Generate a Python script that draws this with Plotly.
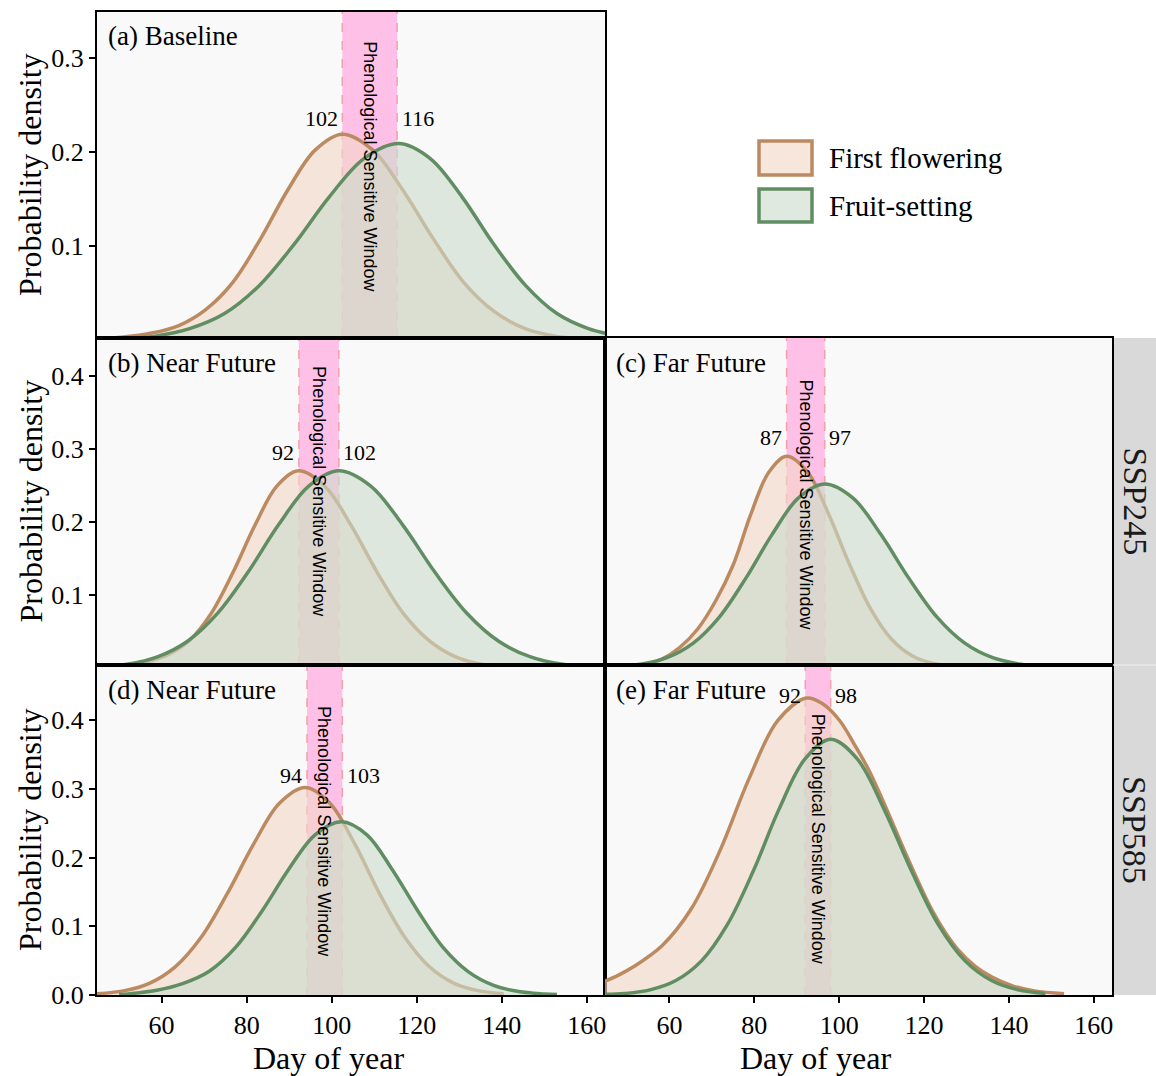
import plotly.graph_objects as go

# ---------------- data ----------------
panels = ["a", "b", "c", "d", "e"]
panel_titles = ["(a) Baseline", "(b) Near Future", "(c) Far Future", "(d) Near Future", "(e) Far Future"]

# First flowering density curves (day of year, density)
ff_a_x = [44.5, 51.0, 57.4, 63.9, 70.3, 76.7, 83.2, 89.6, 96.1, 102.5, 109.7, 116.8, 124.0, 131.1, 138.3, 145.5, 152.6, 159.8, 164.5]
ff_a_y = [0.001, 0.003, 0.007, 0.015, 0.032, 0.061, 0.107, 0.159, 0.202, 0.219, 0.202, 0.159, 0.107, 0.061, 0.030, 0.012, 0.004, 0.0013, 0.0005]
ff_b_x = [46.1, 51.2, 56.4, 61.5, 66.6, 71.7, 76.8, 82.0, 87.1, 92.2, 98.4, 104.5, 110.7, 116.8, 123.0, 129.2, 135.3, 141.5, 147.6]
ff_b_y = [0.001, 0.003, 0.008, 0.018, 0.038, 0.075, 0.131, 0.196, 0.249, 0.270, 0.249, 0.196, 0.131, 0.075, 0.037, 0.015, 0.005, 0.0016, 0.0004]
ff_c_x = [54.0, 58.2, 62.4, 66.6, 70.8, 75.0, 79.2, 83.4, 87.6, 92.6, 97.5, 102.5, 107.4, 112.4, 117.4, 122.3, 127.3]
ff_c_y = [0.004, 0.012, 0.028, 0.053, 0.091, 0.141, 0.211, 0.268, 0.290, 0.268, 0.211, 0.141, 0.081, 0.039, 0.016, 0.006, 0.0017]
ff_d_x = [44.8, 51.0, 57.1, 63.2, 69.3, 75.4, 81.6, 87.7, 93.8, 99.6, 105.5, 111.3, 117.2, 123.0, 128.8, 134.7, 140.5]
ff_d_y = [0.002, 0.006, 0.017, 0.041, 0.084, 0.147, 0.219, 0.279, 0.302, 0.279, 0.219, 0.147, 0.084, 0.041, 0.017, 0.006, 0.002]
ff_e_x = [44.7, 48.0, 51.5, 58.3, 65.1, 71.9, 78.7, 85.5, 92.3, 96, 100, 104, 107, 110, 113, 116, 119, 122, 125, 128, 132, 136, 141, 146, 153]
ff_e_y = [0.020, 0.029, 0.041, 0.072, 0.125, 0.210, 0.314, 0.399, 0.432, 0.424, 0.400, 0.360, 0.327, 0.287, 0.244, 0.201, 0.160, 0.122, 0.091, 0.066, 0.042, 0.026, 0.013, 0.006, 0.002]

# Fruit-setting density curves (day of year, density)
fs_a_x = [45.0, 50.2, 58.4, 66.6, 74.8, 83.0, 91.2, 99.4, 107.6, 115.8, 123.2, 130.7, 138.1, 145.6, 153.0, 160.4, 167.9]
fs_a_y = [0.0005, 0.0013, 0.004, 0.012, 0.028, 0.058, 0.102, 0.152, 0.193, 0.209, 0.193, 0.152, 0.102, 0.058, 0.028, 0.012, 0.004]
fs_b_x = [44.7, 51.9, 59.0, 66.1, 73.2, 80.3, 87.5, 94.6, 101.7, 109.2, 116.7, 124.3, 131.8, 139.3, 146.8, 154.3, 161.9]
fs_b_y = [0.0016, 0.005, 0.015, 0.0365, 0.075, 0.131, 0.196, 0.249, 0.270, 0.249, 0.196, 0.131, 0.075, 0.0365, 0.015, 0.005, 0.0016]
fs_c_x = [44.7, 47.0, 53.2, 59.4, 65.6, 71.8, 78.0, 84.2, 90.4, 96.6, 103.2, 109.8, 116.4, 123.0, 129.6, 136.2, 142.8, 149.4]
fs_c_y = [0.0009, 0.0015, 0.005, 0.014, 0.034, 0.070, 0.123, 0.183, 0.233, 0.252, 0.233, 0.183, 0.123, 0.070, 0.034, 0.014, 0.005, 0.0015]
fs_d_x = [50.0, 52.7, 58.9, 65.1, 71.3, 77.5, 83.7, 89.9, 96.1, 102.3, 108.3, 114.2, 120.2, 126.1, 132.1, 138.1, 144.0, 150.0, 153.0]
fs_d_y = [0.0008, 0.002, 0.007, 0.017, 0.035, 0.070, 0.123, 0.183, 0.233, 0.252, 0.233, 0.183, 0.123, 0.070, 0.034, 0.014, 0.005, 0.0015, 0.0006]
fs_e_x = [45.0, 49.4, 55.4, 61.5, 67.6, 73.7, 79.8, 85.8, 91.9, 98.0, 104.3, 110.6, 117.0, 123.3, 129.6, 135.9, 142.2, 148.6]
fs_e_y = [0.001, 0.0022, 0.0074, 0.021, 0.050, 0.103, 0.181, 0.270, 0.343, 0.372, 0.343, 0.270, 0.181, 0.103, 0.050, 0.021, 0.0074, 0.0022]

# Phenological sensitive window (peak days) and their labels
window_start = [102.5, 92.3, 87.6, 94.2, 92.0]
window_end = [115.4, 101.7, 96.6, 102.5, 98.0]
label_start = ["102", "92", "87", "94", "92"]
label_end = ["116", "102", "97", "103", "98"]
label_y = [0.236, 0.295, 0.315, 0.320, 0.436]
window_text_y = [0.184, 0.241, 0.223, 0.2375, 0.226]

scenario_labels = ["SSP245", "SSP585"]
x_ticks = [60, 80, 100, 120, 140, 160]
y_ticks_a = [0.1, 0.2, 0.3]
y_ticks_b = [0.1, 0.2, 0.3, 0.4]
y_ticks_d = [0.0, 0.1, 0.2, 0.3, 0.4]

ff_x = [ff_a_x, ff_b_x, ff_c_x, ff_d_x, ff_e_x]
ff_y = [ff_a_y, ff_b_y, ff_c_y, ff_d_y, ff_e_y]
fs_x = [fs_a_x, fs_b_x, fs_c_x, fs_d_x, fs_e_x]
fs_y = [fs_a_y, fs_b_y, fs_c_y, fs_d_y, fs_e_y]

# ---------------- styling ----------------
W, H = 1156, 1076
SERIF = "Liberation Serif, Times New Roman, serif"
SANS = "Liberation Sans, Arial, sans-serif"
FF_LINE = "rgb(188,138,96)"
FS_LINE = "rgb(96,142,98)"
FF_FILL = "rgba(240,214,198,0.62)"
FS_FILL = "rgba(203,219,203,0.62)"
PINK = "rgb(255,192,232)"
DASH = "rgb(242,160,168)"

def px(xp):
    return xp / W

def py(yp):
    return (H - yp) / H

XL = [px(97), px(605)]
XR = [px(605), px(1112)]
ROW1 = [py(338), py(12)]
ROW2 = [py(665), py(338)]
ROW3 = [py(995), py(665)]

axes = [("x", "y", XL, ROW1), ("x2", "y2", XL, ROW2), ("x3", "y3", XR, ROW2),
        ("x4", "y4", XL, ROW3), ("x5", "y5", XR, ROW3)]

fig = go.Figure()

for i, (xa, ya, xd, yd) in enumerate(axes):
    fig.add_trace(go.Scatter(x=ff_x[i], y=ff_y[i], mode="lines", xaxis=xa, yaxis=ya,
                             line=dict(color=FF_LINE, width=3.5, shape="spline", smoothing=1.0),
                             fill="tozeroy", fillcolor=FF_FILL, showlegend=False, hoverinfo="skip"))
    fig.add_trace(go.Scatter(x=fs_x[i], y=fs_y[i], mode="lines", xaxis=xa, yaxis=ya,
                             line=dict(color=FS_LINE, width=3.5, shape="spline", smoothing=1.0),
                             fill="tozeroy", fillcolor=FS_FILL, showlegend=False, hoverinfo="skip"))

shapes = []
annotations = []
for i, (xa, ya, xd, yd) in enumerate(axes):
    shapes.append(dict(type="rect", xref=xa, yref=ya + " domain", x0=window_start[i], x1=window_end[i],
                       y0=0, y1=1, fillcolor=PINK, line=dict(width=0), layer="below"))
    for xv in (window_start[i], window_end[i]):
        shapes.append(dict(type="line", xref=xa, yref=ya + " domain", x0=xv, x1=xv, y0=0, y1=1,
                           line=dict(color=DASH, width=1.5, dash="dash"), layer="below"))
    annotations.append(dict(xref=xa, yref=ya, x=window_start[i] - 0.6, y=label_y[i], text=label_start[i],
                            showarrow=False, xanchor="right", yanchor="middle",
                            font=dict(family=SERIF, size=22, color="black")))
    annotations.append(dict(xref=xa, yref=ya, x=window_end[i] + 0.6, y=label_y[i], text=label_end[i],
                            showarrow=False, xanchor="left", yanchor="middle",
                            font=dict(family=SERIF, size=22, color="black")))
    annotations.append(dict(xref=xa, yref=ya, x=(window_start[i] + window_end[i]) / 2, y=window_text_y[i],
                            text="Phenological Sensitive Window", showarrow=False, textangle=90,
                            xanchor="center", yanchor="middle",
                            font=dict(family=SANS, size=18, color="black")))
    annotations.append(dict(xref=xa + " domain", yref=ya + " domain", x=0.018, y=0.925,
                            text=panel_titles[i], showarrow=False, xanchor="left", yanchor="middle",
                            font=dict(family=SERIF, size=27, color="black")))

for (y0p, y1p) in [(12, 338), (338, 665), (665, 995)]:
    annotations.append(dict(xref="paper", yref="paper", x=px(30), y=py((y0p + y1p) / 2),
                            text="Probability density", showarrow=False, textangle=-90,
                            xanchor="center", yanchor="middle",
                            font=dict(family=SERIF, size=32, color="black")))
for xc in (px(328), px(815)):
    annotations.append(dict(xref="paper", yref="paper", x=xc, y=py(1058), text="Day of year",
                            showarrow=False, xanchor="center", yanchor="middle",
                            font=dict(family=SERIF, size=32, color="black")))

for j, (y0p, y1p) in enumerate([(338, 665), (665, 995)]):
    shapes.append(dict(type="rect", xref="paper", yref="paper", x0=px(1113), x1=1.0,
                       y0=py(y1p), y1=py(y0p), fillcolor="rgb(217,217,217)",
                       line=dict(width=0), layer="below"))
    annotations.append(dict(xref="paper", yref="paper", x=px(1135), y=py((y0p + y1p) / 2),
                            text=scenario_labels[j], showarrow=False, textangle=90,
                            xanchor="center", yanchor="middle",
                            font=dict(family=SERIF, size=34, color="rgb(26,26,26)")))
shapes.append(dict(type="line", xref="paper", yref="paper", x0=px(1113), x1=1.0, y0=py(665), y1=py(665),
                   line=dict(color="rgb(232,232,232)", width=1.5)))

for (yt, yb, fill, line, name) in [(141, 175, FF_FILL, FF_LINE, "First flowering"),
                                   (189, 222, FS_FILL, FS_LINE, "Fruit-setting")]:
    shapes.append(dict(type="rect", xref="paper", yref="paper", x0=px(759), x1=px(812),
                       y0=py(yb), y1=py(yt), fillcolor=fill, line=dict(color=line, width=3.5)))
    annotations.append(dict(xref="paper", yref="paper", x=px(827), y=py((yt + yb) / 2), text=name,
                            showarrow=False, xanchor="left", yanchor="middle",
                            font=dict(family=SERIF, size=29, color="black")))

layout = dict(width=W, height=H, autosize=False,
              margin=dict(l=0, r=0, t=0, b=0, pad=0, autoexpand=False),
              paper_bgcolor="white", plot_bgcolor="rgb(249,249,249)",
              shapes=shapes, annotations=annotations, showlegend=False)

XR_RANGE = [44.8, 164.3]
y_ranges = [[0.002, 0.349], [0.004, 0.452], [0.004, 0.452], [0.0, 0.48], [0.0, 0.48]]
y_tickvals = [y_ticks_a, y_ticks_b, None, y_ticks_d, None]
bottom_row = [False, False, False, True, True]

for i, (xa, ya, xd, yd) in enumerate(axes):
    xkey = "xaxis" if xa == "x" else "xaxis" + xa[1:]
    ykey = "yaxis" if ya == "y" else "yaxis" + ya[1:]
    layout[xkey] = dict(domain=xd, anchor=ya, range=XR_RANGE, showgrid=False, zeroline=False,
                        showline=True, linecolor="black", linewidth=2, mirror=True,
                        tickvals=x_ticks if bottom_row[i] else [],
                        ticks="outside" if bottom_row[i] else "", ticklen=6, tickwidth=1.5,
                        tickcolor="black", showticklabels=bottom_row[i], automargin=False,
                        tickfont=dict(family=SERIF, size=26, color="black"))
    has_y = y_tickvals[i] is not None
    layout[ykey] = dict(domain=yd, anchor=xa, range=y_ranges[i], showgrid=False, zeroline=False,
                        showline=True, linecolor="black", linewidth=2, mirror=True,
                        tickvals=y_tickvals[i] if has_y else [],
                        tickformat=".1f", automargin=False,
                        ticks="outside" if has_y else "", ticklen=6, tickwidth=1.5, tickcolor="black",
                        showticklabels=has_y,
                        tickfont=dict(family=SERIF, size=26, color="black"))

fig.update_layout(**layout)
fig.write_html("out.html", config={"displayModeBar": False},
               post_script="document.body.style.margin='0';")
